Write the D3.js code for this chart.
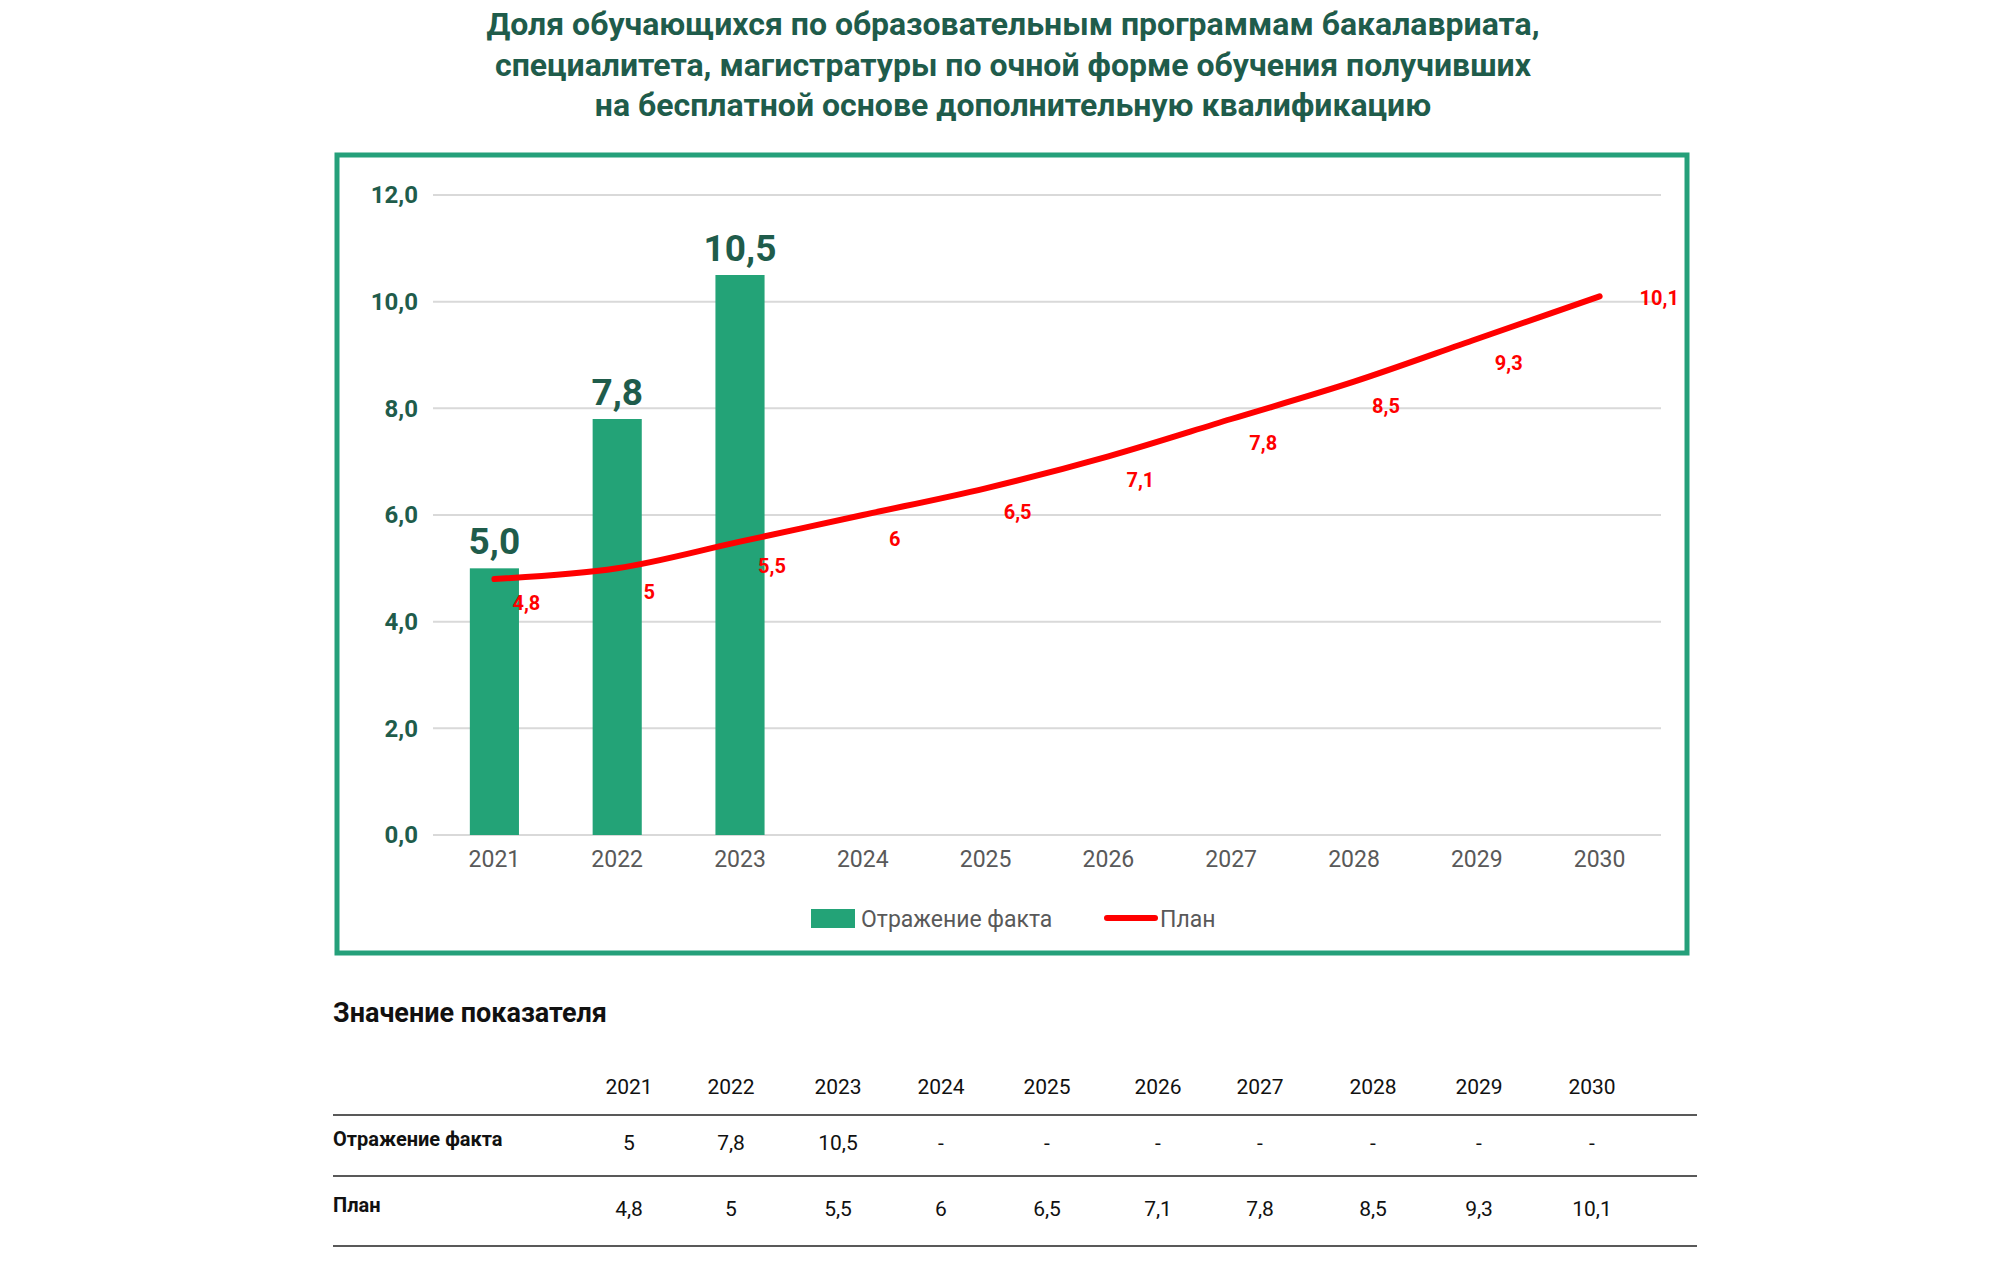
<!DOCTYPE html>
<meta charset="utf-8">
<style>
body { margin: 0; background: #fff; }
svg text { font-family: Roboto, "Noto Sans", sans-serif; }
.title { fill: #1f5c4b; font-weight: bold; font-size: 32px; }
.axis line, .axis .domain { display: none; }
</style>
<svg width="2000" height="1285"></svg>
<script src="https://d3js.org/d3.v7.min.js"></script>
<script>
var years = ["2021","2022","2023","2024","2025","2026","2027","2028","2029","2030"];
var fact = [5.0, 7.8, 10.5, null, null, null, null, null, null, null];
var plan = [4.8, 5, 5.5, 6, 6.5, 7.1, 7.8, 8.5, 9.3, 10.1];
var yTicks = [0, 2, 4, 6, 8, 10, 12];
var titleLines = ["Доля обучающихся по образовательным программам бакалавриата,",
  "специалитета, магистратуры по очной форме обучения получивших",
  "на бесплатной основе дополнительную квалификацию"];
var fmt = function(v, d) { return d3.format("." + d + "f")(v).replace(".", ","); };
var fmtShort = function(v) { return String(v).replace(".", ","); };

var svg = d3.select("svg");
svg.selectAll("text.title").data(titleLines).enter().append("text")
  .attr("class", "title").attr("x", 1013).attr("y", (d, i) => 35 + i * 40.5)
  .attr("text-anchor", "middle").text(d => d);

svg.append("rect").attr("x", 337).attr("y", 155).attr("width", 1350).attr("height", 798)
  .attr("fill", "none").attr("stroke", "#25a07a").attr("stroke-width", 5);

var x = d3.scaleBand().domain(years).range([433, 1661]).paddingInner(0.6).paddingOuter(0.3);
var xc = d => x(d) + x.bandwidth() / 2;
var y = d3.scaleLinear().domain([0, 12]).range([835, 195]);

svg.append("g").selectAll("line").data(yTicks).enter().append("line")
  .attr("x1", 433).attr("x2", 1661).attr("y1", d => y(d)).attr("y2", d => y(d))
  .attr("stroke", "#d9d9d9").attr("stroke-width", 2);

var ya = svg.append("g").attr("class", "axis").attr("transform", "translate(418,0)")
  .call(d3.axisLeft(y).tickValues(yTicks).tickSize(0).tickFormat(d => fmt(d, 1)));
ya.selectAll("text").attr("font-size", 24).attr("font-weight", "bold").attr("fill", "#1f5c4b")
  .attr("font-family", "Roboto, sans-serif").attr("x", 0);

var xa = svg.append("g").attr("class", "axis").attr("transform", "translate(0,848)")
  .call(d3.axisBottom(x).tickSize(0));
xa.selectAll("text").attr("font-size", 23).attr("fill", "#595959").attr("font-family", "Roboto, sans-serif");

var fd = years.map((d, i) => ({ year: d, v: fact[i] })).filter(d => d.v != null);
svg.selectAll("rect.bar").data(fd).enter().append("rect").attr("class", "bar")
  .attr("x", d => x(d.year)).attr("width", x.bandwidth())
  .attr("y", d => y(d.v)).attr("height", d => y(0) - y(d.v)).attr("fill", "#23a377");
svg.selectAll("text.bl").data(fd).enter().append("text").attr("class", "bl")
  .attr("x", d => xc(d.year)).attr("y", d => y(d.v) - 14).attr("text-anchor", "middle")
  .attr("font-size", 37).attr("font-weight", "bold").attr("fill", "#1f5c4b").text(d => fmt(d.v, 1));

var pd = years.map((d, i) => ({ year: d, v: plan[i] }));
svg.append("path").datum(pd).attr("fill", "none").attr("stroke", "#ff0000").attr("stroke-width", 6)
  .attr("stroke-linecap", "round")
  .attr("d", d3.line().x(d => xc(d.year)).y(d => y(d.v)).curve(d3.curveMonotoneX));
svg.selectAll("text.pl").data(pd).enter().append("text").attr("class", "pl")
  .attr("x", (d, i) => xc(d.year) + (i === pd.length - 1 ? 40 : 32))
  .attr("y", (d, i) => y(d.v) + (i === pd.length - 1 ? 9 : 31))
  .attr("text-anchor", (d, i) => i === pd.length - 1 ? "start" : "middle")
  .attr("font-size", 20).attr("font-weight", "bold").attr("fill", "#ff0000").text(d => fmtShort(d.v));

// legend
svg.append("rect").attr("x", 811).attr("y", 909).attr("width", 44).attr("height", 19).attr("fill", "#23a377");
svg.append("text").attr("x", 861).attr("y", 927).attr("font-size", 23).attr("fill", "#595959").text("Отражение факта");
svg.append("line").attr("x1", 1107).attr("x2", 1155).attr("y1", 918).attr("y2", 918)
  .attr("stroke", "#ff0000").attr("stroke-width", 6).attr("stroke-linecap", "round");
svg.append("text").attr("x", 1160).attr("y", 927).attr("font-size", 23).attr("fill", "#595959").text("План");

// table
svg.append("text").attr("x", 333).attr("y", 1022).attr("font-size", 27).attr("font-weight", "bold")
  .attr("fill", "#111").text("Значение показателя");
var colX = [629, 731, 838, 941, 1047, 1158, 1260, 1373, 1479, 1592];
var col = d3.scaleOrdinal().domain(years).range(colX);
svg.selectAll("text.th").data(years).enter().append("text").attr("class", "th")
  .attr("x", d => col(d)).attr("y", 1094).attr("text-anchor", "middle").attr("font-size", 21).attr("fill", "#111").text(d => d);
[1115, 1176, 1246].forEach(function(ly) {
  svg.append("line").attr("x1", 333).attr("x2", 1697).attr("y1", ly).attr("y2", ly).attr("stroke", "#222").attr("stroke-width", 1.5);
});
var rows = [{ name: "Отражение факта", vals: fact, y: 1150 }, { name: "План", vals: plan, y: 1216 }];
rows.forEach(function(r) {
  svg.append("text").attr("x", 333).attr("y", r.y - 4).attr("font-size", 20).attr("font-weight", "bold").attr("fill", "#111").text(r.name);
  svg.selectAll(null).data(years).enter().append("text")
    .attr("x", d => col(d)).attr("y", r.y).attr("text-anchor", "middle").attr("font-size", 21).attr("fill", "#111")
    .text((d, i) => r.vals[i] == null ? "-" : fmtShort(r.vals[i]));
});
</script>
